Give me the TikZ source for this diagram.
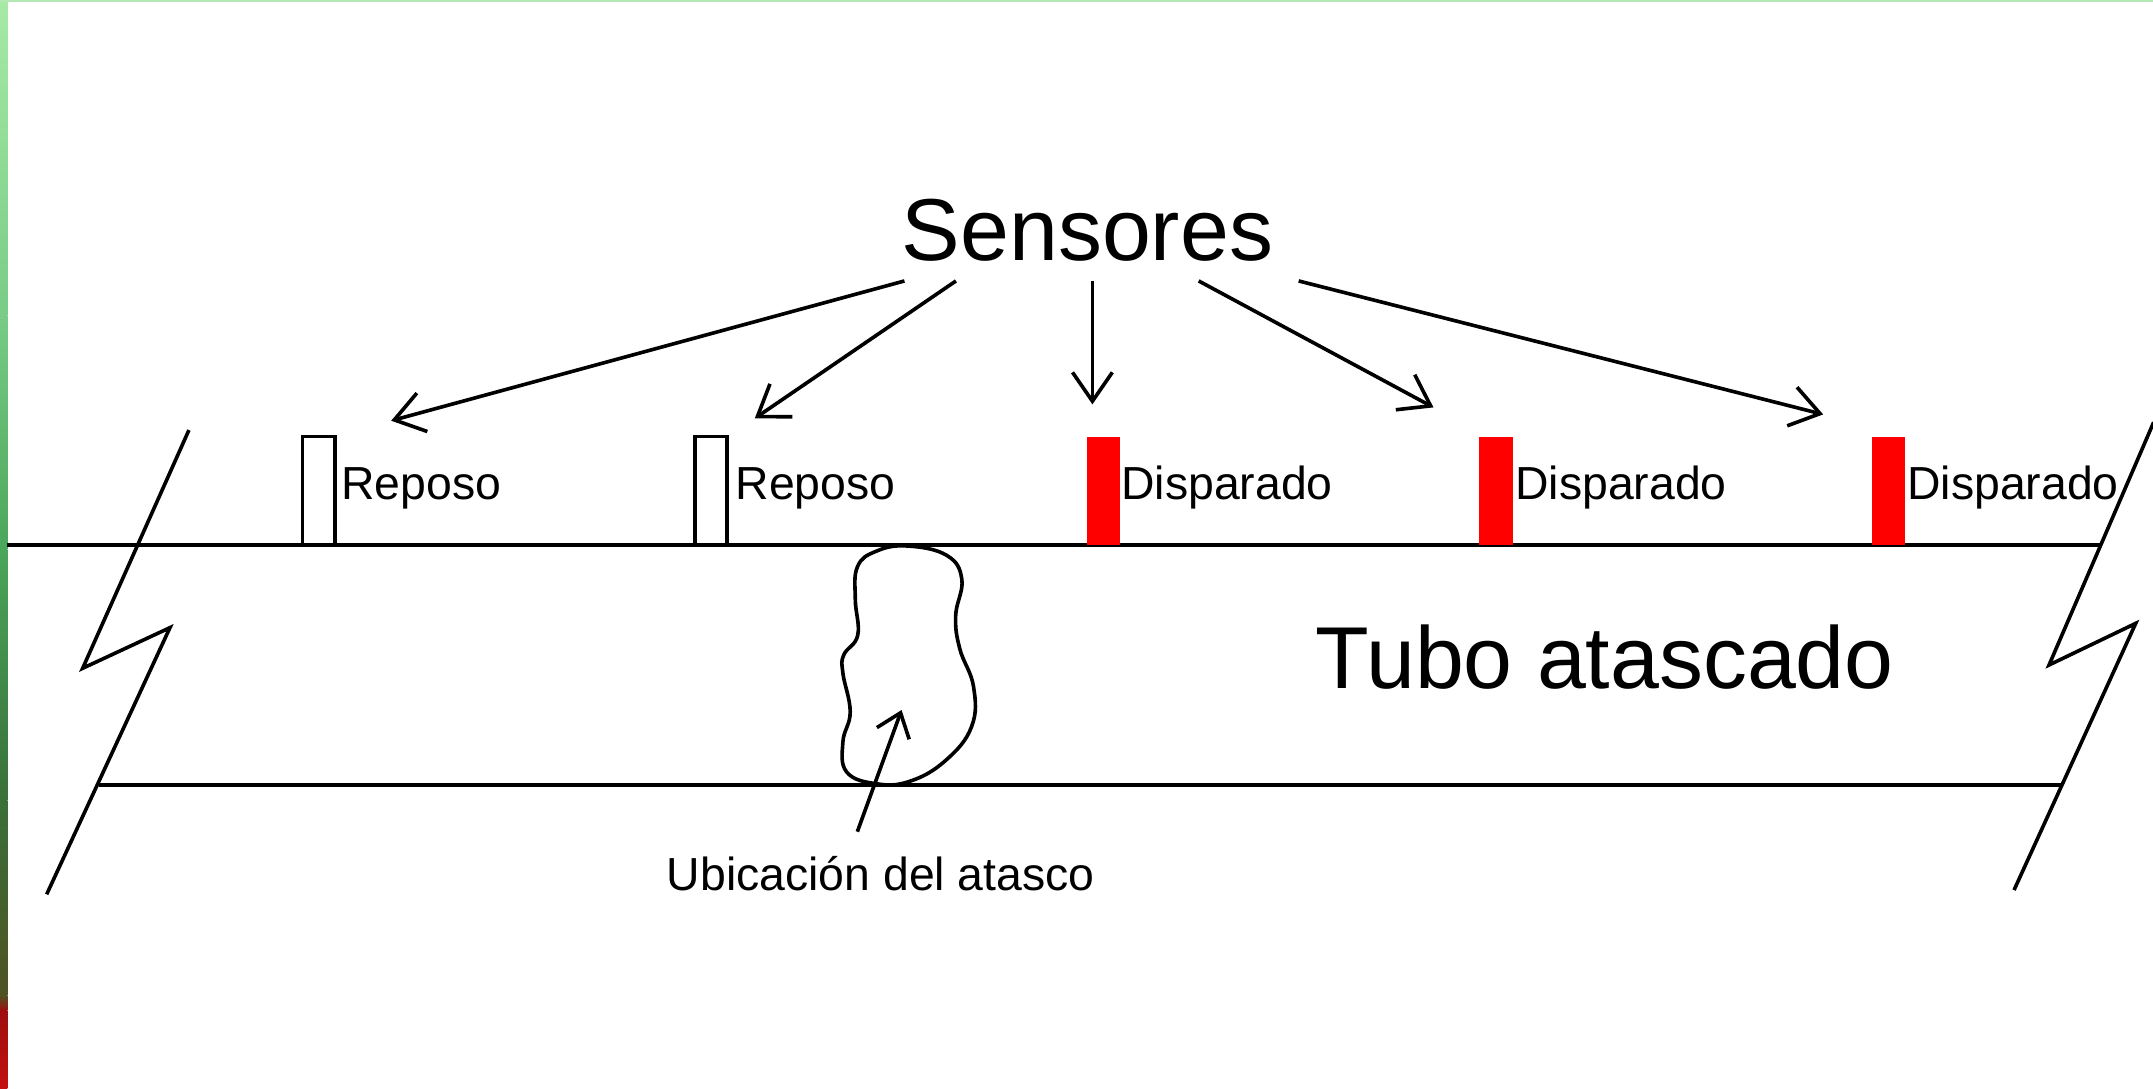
\documentclass[tikz,border=0pt]{standalone}
\usepackage{fontspec}
\setmainfont{Liberation Sans}
\usetikzlibrary{arrows.meta}
\definecolor{stA}{HTML}{A6EAA6}
\definecolor{stB}{HTML}{78CC86}
\definecolor{stC}{HTML}{4AA65A}
\definecolor{stD}{HTML}{3A7038}
\definecolor{stE}{HTML}{4E5222}
\definecolor{stF}{HTML}{9E0E0E}
\definecolor{stG}{HTML}{C41010}
\definecolor{topline}{HTML}{B4E8B4}
\begin{document}
\begin{tikzpicture}[x=0.01cm,y=-0.01cm,
  line/.style={line width=0.75pt, black},
  sensoroff/.style={draw=black, line width=0.75pt, fill=white, minimum width=0.235cm, minimum height=0.79cm, inner sep=0pt, outer sep=0pt, anchor=south},
  sensoron/.style={fill=red, minimum width=0.246cm, minimum height=0.79cm, inner sep=0pt, outer sep=0pt, anchor=south},
  lbl/.style={font=\fontsize{9.6pt}{11pt}\selectfont, inner sep=0pt, anchor=base west},
  big/.style={font=\fontsize{18.2pt}{21pt}\selectfont, inner sep=0pt},
  ptr/.style={line width=0.75pt, -{Straight Barb[length=0.21cm,width=0.29cm]}},
  ptrsmall/.style={line width=0.75pt, -{Straight Barb[length=0.16cm,width=0.25cm]}}
]
% background and bounding box
\useasboundingbox (0,0) rectangle (1568,793);
\fill[white] (0,0) rectangle (1568,793);
% left edge stripe
\shade[top color=stA, bottom color=stB] (0,0) rectangle (5.3,230);
\shade[top color=stB, bottom color=stC] (0,230) rectangle (5.3,400);
\shade[top color=stC, bottom color=stD] (0,400) rectangle (5.3,583);
\shade[top color=stD, bottom color=stE] (0,583) rectangle (5.3,725);
\shade[top color=stE, bottom color=stF] (0,725) rectangle (5.3,736);
\shade[top color=stF, bottom color=stG] (0,736) rectangle (5.3,793);
% top edge line
\fill[topline] (0,0) rectangle (1568,1.5);

% tube lines
\coordinate (tl) at (5.3,397);
\coordinate (tr) at (1530.7,397);
\coordinate (bl) at (72.1,571.7);
\coordinate (br) at (1501,571.7);
\draw[line] (tl) -- (tr);
\draw[line] (bl) -- (br);

% break marks
\coordinate (la) at (137.6,313.2);
\coordinate (lb) at (60.2,486.7);
\coordinate (lc) at (123.8,457.1);
\coordinate (ld) at (34,651.3);
\draw[line, line join=miter] (la) -- (lb) -- (lc) -- (ld);
\coordinate (ra) at (1568.5,307.5);
\coordinate (rb) at (1492.3,484.3);
\coordinate (rc) at (1555.4,454);
\coordinate (rd) at (1466.8,648.2);
\draw[line, line join=miter] (ra) -- (rb) -- (rc) -- (rd);

% sensors
\node[sensoroff] (s1) at (232,397) {};
\node[sensoroff] (s2) at (517.8,397) {};
\node[sensoron] (s3) at (803.7,397) {};
\node[sensoron] (s4) at (1089.5,397) {};
\node[sensoron] (s5) at (1375.4,397) {};

% sensor labels
\node[lbl] (l1) at (248,364.1) {Reposo};
\node[lbl] (l2) at (535,364.1) {Reposo};
\node[lbl] (l3) at (816,364.1) {Disparado};
\node[lbl] (l4) at (1103,364.1) {Disparado};
\node[lbl] (l5) at (1388.5,364.1) {Disparado};

% titles
\node[big, anchor=base] (sens) at (792,189.4) {Sensores};
\node[big, anchor=base west] (tubo) at (957.5,501.3) {Tubo atascado};
\node[lbl] (ubic) at (485,648.5) {Ubicación del atasco};

% arrows from Sensores
\coordinate (a1s) at (658.7,204.6); \coordinate (a1e) at (284.9,306.4);
\coordinate (a2s) at (696.2,204.6); \coordinate (a2e) at (549.7,304.7);
\coordinate (a3s) at (795.6,204.6); \coordinate (a3e) at (795.6,294.5);
\coordinate (a4s) at (873.0,204.6); \coordinate (a4e) at (1044.0,296.7);
\coordinate (a5s) at (945.8,204.6); \coordinate (a5e) at (1327.8,301.8);
\draw[ptr] (a1s) -- (a1e);
\draw[ptr] (a2s) -- (a2e);
\draw[ptr] (a3s) -- (a3e);
\draw[ptr] (a4s) -- (a4e);
\draw[ptr] (a5s) -- (a5e);

% blockage blob
\draw[line] plot[smooth cycle, tension=0.7] coordinates {
  (660.3,397.6) (689.4,404.4) (700.5,422.0) (696.0,448.5)
  (699.0,472.5) (709.0,500.0) (707.6,529.2)
  (688.6,553.9) (662.6,569.0) (638.2,570.8) (616.6,562.2)
  (613.9,540.1) (619.2,518.4) (613.9,490.4)
  (614.5,477.0) (624.7,462.5) (622.9,436.3)
  (624.5,412.7) (638.0,401.5)};
\coordinate (ubtail) at (624.4,605.7);
\coordinate (blobpt) at (656.6,517.1);
\draw[ptrsmall] (ubtail) -- (blobpt);
\end{tikzpicture}
\end{document}
